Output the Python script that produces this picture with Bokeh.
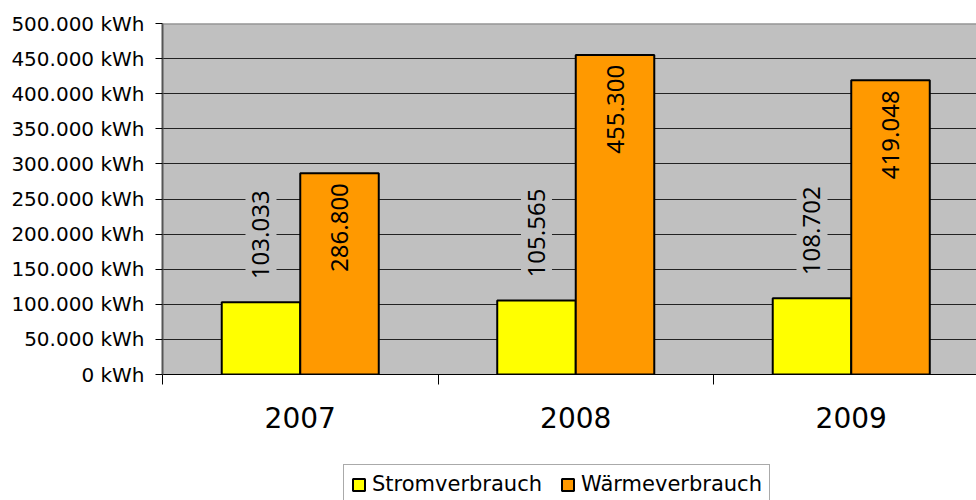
import numpy as np
from bokeh.plotting import figure
from bokeh.layouts import column
from bokeh.models import (Range1d, FixedTicker, Legend, LegendItem, Span,
                          ColumnDataSource)
from bokeh.transform import dodge
from bokeh.core.properties import value
from bokeh.embed import file_html
from bokeh.resources import INLINE

# ---- data ----
years = ["2007", "2008", "2009"]
strom = [103033, 105565, 108702]
waerme = [286800, 455300, 419048]
strom_labels = ["103.033", "105.565", "108.702"]
waerme_labels = ["286.800", "455.300", "419.048"]
y_ticks = [0, 50000, 100000, 150000, 200000, 250000, 300000, 350000, 400000, 450000, 500000]
y_tick_labels = ["0 kWh", "50.000 kWh", "100.000 kWh", "150.000 kWh", "200.000 kWh",
                 "250.000 kWh", "300.000 kWh", "350.000 kWh", "400.000 kWh",
                 "450.000 kWh", "500.000 kWh"]
series_names = ["Stromverbrauch", "Wärmeverbrauch"]

# ---- layout ----
x_pos = [i + 0.5 for i in range(len(years))]
bounds = list(range(len(years) + 1))
BW = 0.285
COL_Y, COL_O = "#FFFF00", "#FF9900"

src = ColumnDataSource(dict(x=x_pos, strom=strom, waerme=waerme,
                            sl=strom_labels, wl=waerme_labels))

p = figure(width=976, height=460, output_backend="svg", toolbar_location=None,
           x_range=Range1d(0, 814 / 275.5), y_range=Range1d(0, 500000),
           min_border_left=162, min_border_top=23, min_border_right=0,
           min_border_bottom=86)
p.background_fill_color = "#C0C0C0"
p.border_fill_color = "white"
p.outline_line_color = None

# axes
xa = p.xaxis[0]
xa.ticker = FixedTicker(ticks=x_pos, minor_ticks=bounds)
xa.major_label_overrides = {x: y for x, y in zip(x_pos, years)}
xa.major_tick_out = 0
xa.major_tick_in = 0
xa.minor_tick_out = 10
xa.minor_tick_in = 0
xa.minor_tick_line_color = "black"
xa.axis_line_color = "black"
xa.major_label_text_font = "DejaVu Sans"
xa.major_label_text_font_size = "28px"
xa.major_label_text_color = "black"
xa.major_label_standoff = 22

ya = p.yaxis[0]
ya.ticker = FixedTicker(ticks=y_ticks, minor_ticks=[])
ya.major_label_overrides = {t: l for t, l in zip(y_ticks, y_tick_labels)}
ya.major_tick_out = 7
ya.major_tick_in = 0
ya.major_tick_line_color = "black"
ya.axis_line_color = "#555555"
ya.axis_line_width = 2
ya.major_label_text_font = "DejaVu Sans"
ya.major_label_text_font_size = "20px"
ya.major_label_text_color = "black"
ya.major_label_standoff = 11

p.xgrid.visible = False
p.ygrid[0].ticker = FixedTicker(ticks=y_ticks[1:-1])
p.ygrid[0].grid_line_color = "#222222"
p.ygrid[0].grid_line_width = 1

p.add_layout(Span(location=y_ticks[-1], dimension="width",
                  line_color="#808080", line_width=2))

# bars
p.vbar(x=dodge("x", -BW / 2), top="strom", width=BW, source=src,
       fill_color=COL_Y, line_color="black", line_width=2)
p.vbar(x=dodge("x", BW / 2), top="waerme", width=BW, source=src,
       fill_color=COL_O, line_color="black", line_width=2)

# value labels
p.text(x=dodge("x", -BW / 2), y="strom", text="sl", source=src,
       angle=np.pi / 2, text_align="left", text_baseline="middle",
       y_offset=-16, text_font=value("Noto Sans"), text_font_size="24px",
       text_color="black", background_fill_color="#C0C0C0", padding=7)
p.text(x=dodge("x", BW / 2), y="waerme", text="wl", source=src,
       angle=np.pi / 2, text_align="right", text_baseline="middle",
       y_offset=10, text_font=value("Noto Sans"), text_font_size="24px",
       text_color="black")

# legend strip (separate figure whose frame holds only the legend;
# its bars lie outside both of its ranges and only supply the swatches)
p2 = figure(width=976, height=40, output_backend="svg", toolbar_location=None,
            x_range=Range1d(-20, -19), y_range=Range1d(1e7, 2e7),
            x_axis_type=None, y_axis_type=None,
            min_border_left=0, min_border_right=0, min_border_top=0,
            min_border_bottom=0)
p2.background_fill_color = "white"
p2.border_fill_color = "white"
p2.outline_line_color = None
p2.xgrid.visible = False
p2.ygrid.visible = False
r1 = p2.vbar(x=dodge("x", -BW / 2), top="strom", width=BW, source=src,
             fill_color=COL_Y, line_color="black", line_width=2)
r2 = p2.vbar(x=dodge("x", BW / 2), top="waerme", width=BW, source=src,
             fill_color=COL_O, line_color="black", line_width=2)

legend = Legend(items=[LegendItem(label=series_names[0], renderers=[r1]),
                       LegendItem(label=series_names[1], renderers=[r2])],
                location=(181, -4), orientation="horizontal",
                label_text_font="DejaVu Sans", label_text_font_size="21px",
                label_text_color="black",
                glyph_width=15, glyph_height=15, label_standoff=6, spacing=18,
                padding=7, margin=0, border_line_color="#555555",
                border_line_width=1, background_fill_color="white",
                background_fill_alpha=1)
p2.add_layout(legend, "center")

layout = column(p, p2, spacing=0)
open("out.html", "w").write(file_html(layout, INLINE))
